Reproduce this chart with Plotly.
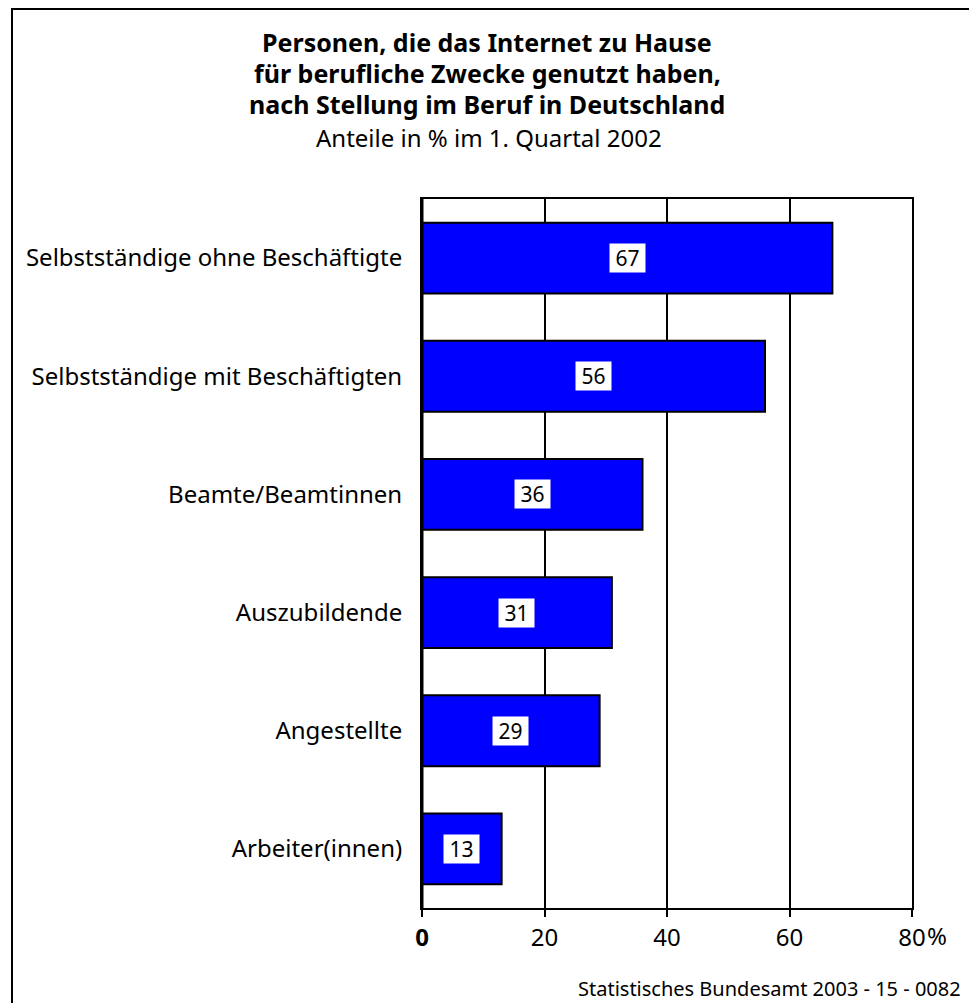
import plotly.graph_objects as go

categories = ["Selbstständige ohne Beschäftigte", "Selbstständige mit Beschäftigten",
              "Beamte/Beamtinnen", "Auszubildende", "Angestellte", "Arbeiter(innen)"]
values = [67, 56, 36, 31, 29, 13]
tick_vals = [0, 20, 40, 60, 80]
tick_text = ["<b>0</b>", "20", "40", "60", "80"]
unit = "%"
title_lines = ["Personen, die das Internet zu Hause",
               "für berufliche Zwecke genutzt haben,",
               "nach Stellung im Beruf in Deutschland"]
subtitle = "Anteile in % im 1. Quartal 2002"
source = "Statistisches Bundesamt 2003 - 15 - 0082"

W, H = 969, 1003
L, R, T, B = 422, 912, 199, 908
FONT = "Noto Sans"

def px(x):
    return (x - L) / (R - L)

def py(y):
    return (B - y) / (B - T)

fig = go.Figure()
fig.add_trace(go.Bar(
    x=values, y=categories, orientation="h",
    marker=dict(color="#0000FF", line=dict(color="black", width=2)),
    width=0.6, hoverinfo="skip",
))

for c, v in zip(categories, values):
    fig.add_annotation(x=v / 2, y=c, xref="x", yref="y", text=str(v),
                       showarrow=False, bgcolor="white", borderpad=0,
                       width=35, height=28, align="center", valign="middle",
                       font=dict(family=FONT, size=21, color="black"))

for i, line in enumerate(title_lines):
    fig.add_annotation(x=px(487), y=py(42 + 31 * i), xref="paper", yref="paper",
                       text="<b>" + line + "</b>", showarrow=False,
                       xanchor="center", yanchor="middle",
                       font=dict(family=FONT, size=25, color="black"))
fig.add_annotation(x=px(489), y=py(138), xref="paper", yref="paper",
                   text=subtitle, showarrow=False, xanchor="center", yanchor="middle",
                   font=dict(family=FONT, size=24, color="black"))
fig.add_annotation(x=px(963), y=py(988), xref="paper", yref="paper",
                   text=source, showarrow=False, xanchor="right", yanchor="middle",
                   font=dict(family=FONT, size=20, color="black"))
# unit sign next to the last tick label
fig.add_annotation(x=1, y=py(935), xref="paper", yref="paper", xshift=13,
                   text=unit, showarrow=False, xanchor="left", yanchor="middle",
                   font=dict(family=FONT, size=24, color="black"))

# outer frame
fig.add_shape(type="rect", xref="paper", yref="paper",
              x0=px(12), y0=py(1100), x1=px(1100), y1=py(9),
              line=dict(color="black", width=2), fillcolor="rgba(0,0,0,0)", layer="above")

fig.update_layout(
    width=W, height=H,
    margin=dict(l=L, r=W - R, t=T, b=H - B),
    plot_bgcolor="white", paper_bgcolor="white",
    showlegend=False, bargap=0.4,
    font=dict(family=FONT, color="black"),
    xaxis=dict(range=[0, 80], tickvals=tick_vals, ticktext=tick_text,
               showgrid=True, gridcolor="black", gridwidth=1.5,
               showline=True, linecolor="black", linewidth=2, mirror=True,
               ticks="outside", ticklen=7, tickwidth=2, tickcolor="black",
               tickfont=dict(family=FONT, size=24, color="black"),
               zeroline=False, fixedrange=True),
    yaxis=dict(autorange="reversed", showgrid=False,
               showline=True, linecolor="black", linewidth=2, mirror=True,
               ticks="outside", ticklen=13, tickcolor="rgba(0,0,0,0)",
               tickfont=dict(family=FONT, size=24, color="black"),
               fixedrange=True),
)
fig.add_shape(type="line", xref="x", yref="paper", x0=0, x1=0, y0=0, y1=1,
              line=dict(color="black", width=3), layer="above")

fig.write_html("out.html")
